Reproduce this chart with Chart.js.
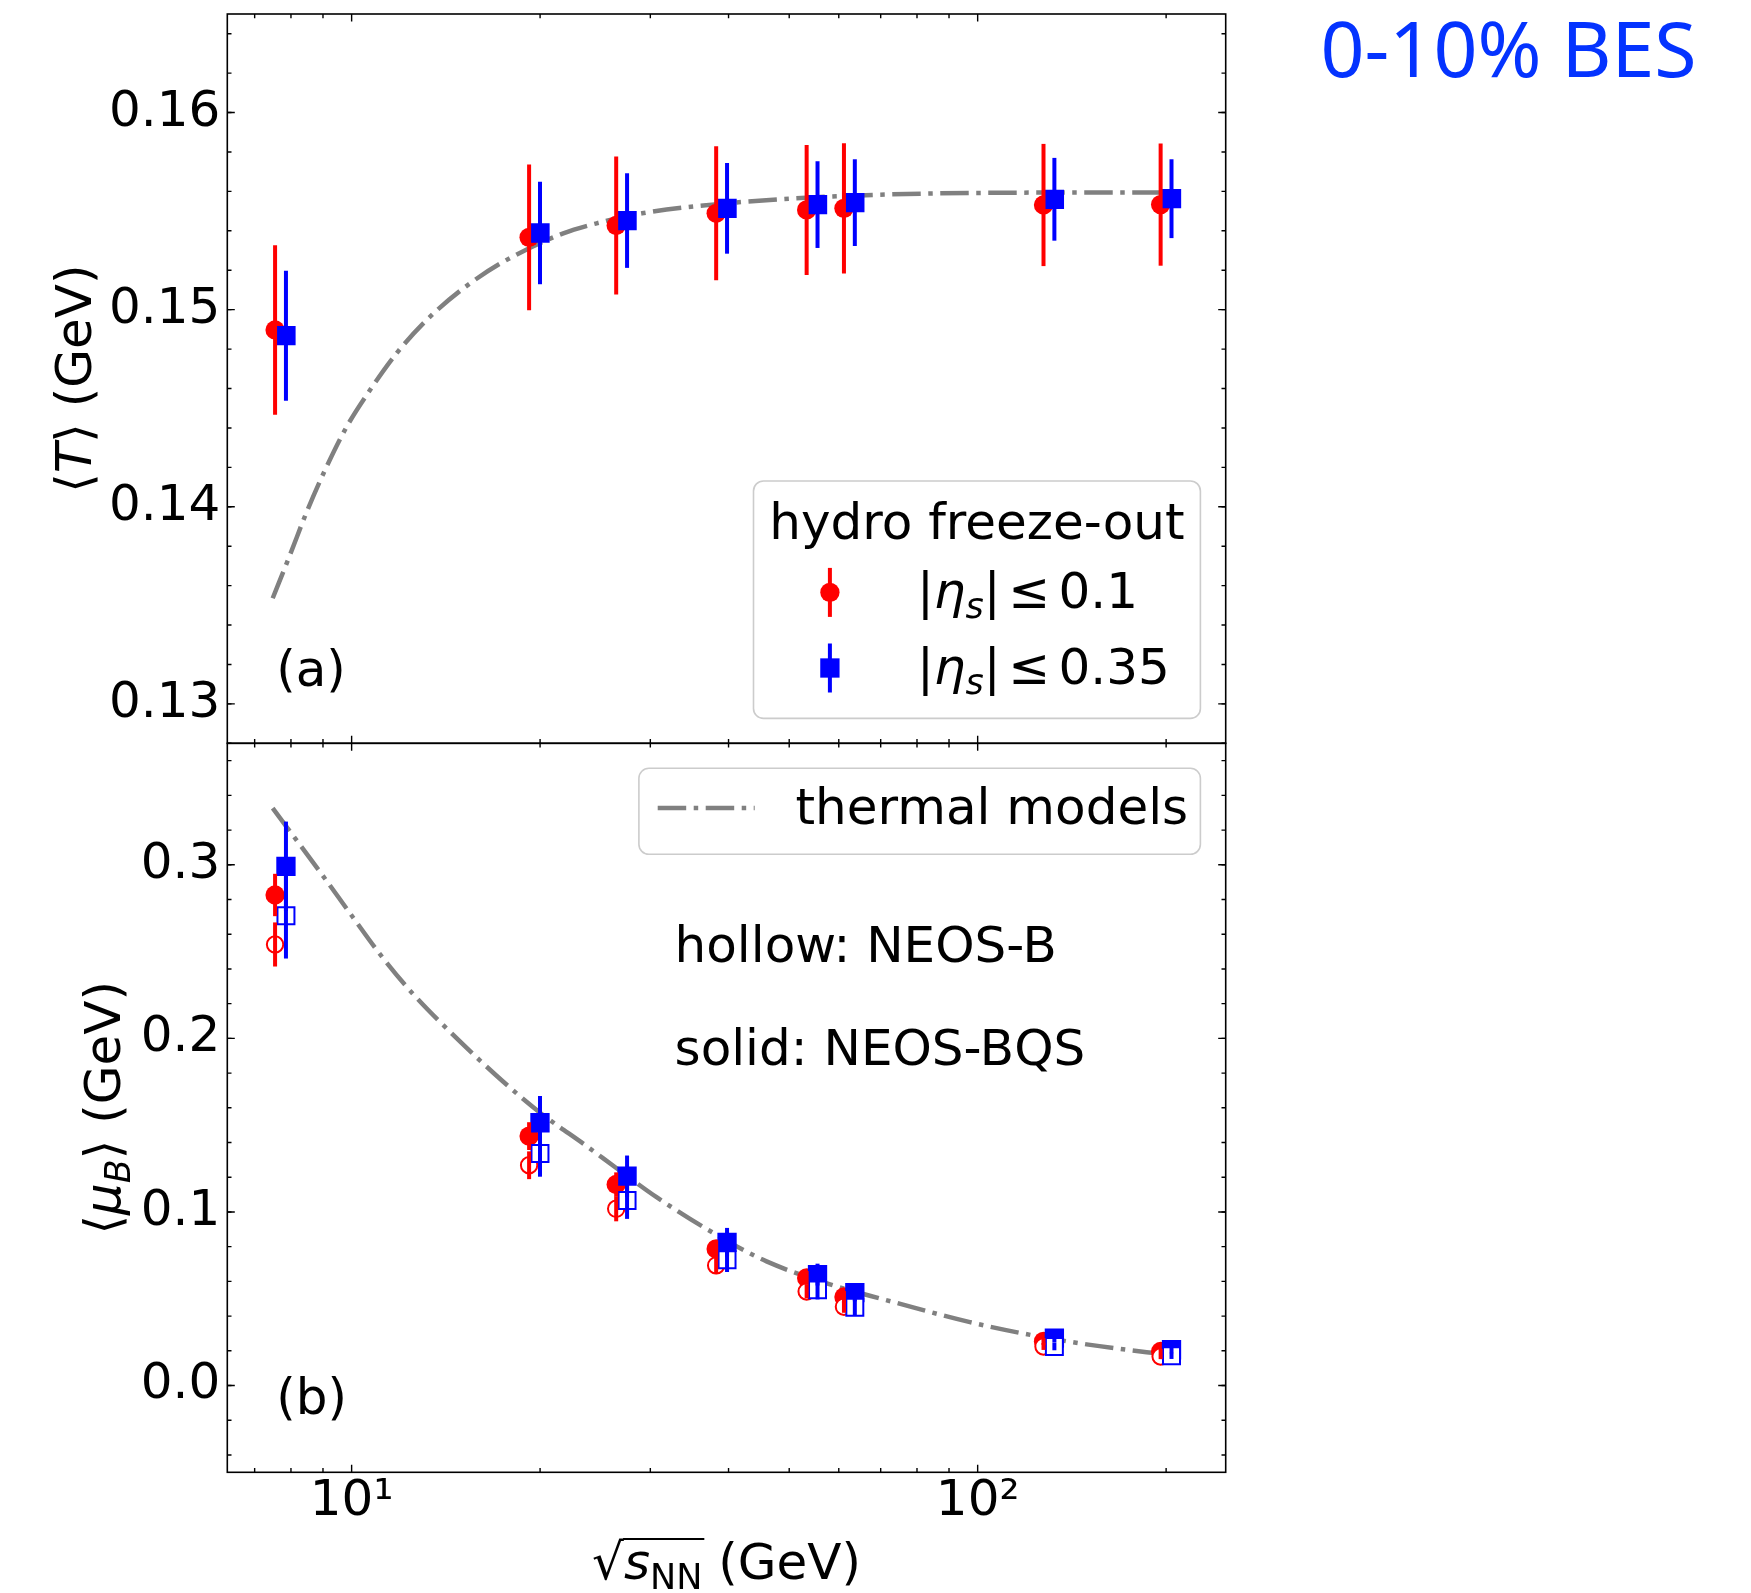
<!DOCTYPE html>
<html>
<head>
<meta charset="utf-8">
<script src="https://cdn.jsdelivr.net/npm/chart.js@4.4.1/dist/chart.umd.min.js"></script>
<style>
  html, body { margin: 0; padding: 0; background: #fff; }
  #wrap { position: relative; width: 1751px; height: 1593px; overflow: hidden; }
  #topBox { position: absolute; left: 0; top: 0; }
  #botBox { position: absolute; left: 0; top: 700px; }
</style>
</head>
<body>
<div id="wrap">
  <div id="topBox"><canvas id="tChart" width="1751" height="760"></canvas></div>
  <div id="botBox"><canvas id="muChart" width="1751" height="893"></canvas></div>
</div>
<script>
// collision energies (GeV); red points sit slightly left, blue slightly right
const sqrtS = [7.7, 19.6, 27, 39, 54.4, 62.4, 130, 200];
const narrowShift = 0.98, wideShift = 1.02;

// <T> panel, hydro freeze-out
const tNarrow    = [0.14897, 0.15367, 0.15427, 0.15489, 0.15506, 0.15514, 0.15531, 0.15533];
const tNarrowErr = [0.0043, 0.0037, 0.0035, 0.0034, 0.0033, 0.0033, 0.0031, 0.0031];
const tWide      = [0.14868, 0.15389, 0.15452, 0.15514, 0.15533, 0.15543, 0.15560, 0.15563];
const tWideErr   = [0.0033, 0.0026, 0.0024, 0.0023, 0.0022, 0.0022, 0.0021, 0.0020];

// thermal model curve for <T>
const tModelX = [7.48, 7.97, 8.48, 9.12, 9.82, 10.7, 11.8, 13.18, 15.08, 17.47, 21.78, 24.62, 29.1, 39.2, 59.5, 97.4, 200];
const tModelY = [0.13536, 0.13755, 0.13975, 0.14203, 0.14406, 0.14592, 0.14779, 0.14948, 0.15108, 0.15243, 0.15387, 0.15438, 0.15489, 0.15538, 0.15575, 0.15592, 0.15595];

// <muB> panel: solid = NEOS-BQS, hollow = NEOS-B
const muNarrowBQS    = [0.2826, 0.1437, 0.1158, 0.0787, 0.0620, 0.0510, 0.0254, 0.0196];
const muNarrowBQSErr = [0.0122, 0.0080, 0.0070, 0.0050, 0.0040, 0.0035, 0.0020, 0.0015];
const muNarrowB      = [0.2541, 0.1269, 0.1018, 0.0692, 0.0542, 0.0454, 0.0225, 0.0167];
const muNarrowBErr   = [0.0127, 0.0080, 0.0072, 0.0050, 0.0040, 0.0035, 0.0020, 0.0015];
const muWideBQS      = [0.2991, 0.1514, 0.1206, 0.0825, 0.0639, 0.0535, 0.0273, 0.0206];
const muWideBQSErr   = [0.0258, 0.0154, 0.0119, 0.0083, 0.0063, 0.0050, 0.0025, 0.0020];
const muWideB        = [0.2706, 0.1337, 0.1066, 0.0725, 0.0551, 0.0451, 0.0225, 0.0171];
const muWideBErr     = [0.0246, 0.0134, 0.0106, 0.0071, 0.0055, 0.0045, 0.0022, 0.0018];

// thermal model curve for <muB>
const muModelX = [7.48, 8.9, 10.06, 11.1, 12.54, 14.53, 17.47, 20.0, 23.74, 26.5, 30.7, 39.7, 46.0, 58.1, 76.0, 97.2, 124.2, 149.3, 186.2, 200];
const muModelY = [0.3326, 0.2960, 0.2695, 0.2485, 0.2255, 0.2020, 0.1750, 0.1572, 0.1379, 0.1252, 0.1085, 0.0835, 0.0715, 0.0583, 0.0466, 0.0365, 0.0285, 0.0237, 0.0192, 0.0180];

// ticks
const xMajorTicks = [10, 100];
const xTickLabels = ['10¹', '10²'];
const xMinorTicks = [7, 8, 9, 20, 30, 40, 50, 60, 70, 80, 90, 200];
const tTicks = [0.13, 0.14, 0.15, 0.16];
const tTickLabels = ['0.13', '0.14', '0.15', '0.16'];
const muTicks = [0.0, 0.1, 0.2, 0.3];
const muTickLabels = ['0.0', '0.1', '0.2', '0.3'];

const tMinorTicks = [];
for (let k = 64; k <= 82; k++) tMinorTicks.push(k * 0.002);
const muMinorTicks = [];
for (let k = -2; k <= 18; k++) muMinorTicks.push(k * 0.02);

// text (rich segments: n normal, i italic, s.. subscript, o overlined, r radical, m relation)
const tTitle = [['⟨', 'n'], ['T', 'i'], ['⟩ (GeV)', 'n']];
const muTitle = [['⟨', 'n'], ['μ', 'i'], ['B', 'si'], ['⟩ (GeV)', 'n']];
const xTitle = [['√', 'r'], ['s', 'io'], ['NN', 'so'], [' (GeV)', 'n']];
const narrowLabel = [['|', 'n'], ['η', 'i'], ['s', 'si'], ['|', 'n'], ['≤', 'm'], ['0.1', 'n']];
const wideLabel = [['|', 'n'], ['η', 'i'], ['s', 'si'], ['|', 'n'], ['≤', 'm'], ['0.35', 'n']];

const FONT = '"DejaVu Sans"';
Chart.defaults.font.family = 'DejaVu Sans';
Chart.defaults.font.size = 50;
Chart.defaults.color = '#000';

const pts = (xs, ys, f = 1) => xs.map((x, i) => ({ x: x * f, y: ys[i] }));

function drawRich(ctx, segs, x, y, size, align) {
  const parts = segs.map(([t, st]) => {
    const sub = st[0] === 's';
    const fs = sub ? size * 0.7 : size;
    const font = (st.indexOf('i') >= 0 ? 'italic ' : '') + fs + 'px ' + FONT;
    ctx.font = font;
    const m = ctx.measureText(t);
    const pad = st === 'm' ? size * 0.16 : 0;
    return { t, st, font, m, pad, w: m.width + 2 * pad, dy: sub ? size * 0.2 : 0 };
  });
  const W = parts.reduce((s, p) => s + p.w, 0);
  let cx = align === 'center' ? x - W / 2 : x;
  let ov = null;
  ctx.textAlign = 'left';
  ctx.textBaseline = 'alphabetic';
  for (const p of parts) {
    ctx.font = p.font;
    ctx.fillText(p.t, cx + p.pad, y + p.dy);
    if (p.st === 'r') ov = { x0: cx + p.m.actualBoundingBoxRight - 1, y: y - p.m.actualBoundingBoxAscent + 1, x1: cx };
    if (p.st.indexOf('o') >= 0 && ov) ov.x1 = cx + p.w + 2;
    cx += p.w;
  }
  if (ov) {
    ctx.save();
    ctx.strokeStyle = ctx.fillStyle;
    ctx.lineWidth = 2.2;
    ctx.beginPath(); ctx.moveTo(ov.x0, ov.y); ctx.lineTo(ov.x1, ov.y); ctx.stroke();
    ctx.restore();
  }
}

function drawMarker(ctx, ds, x, y) {
  const r = ds.pointRadius;
  ctx.beginPath();
  if (ds.pointStyle === 'rect') {
    const h = r * Math.SQRT1_2;
    ctx.rect(x - h, y - h, 2 * h, 2 * h);
  } else {
    ctx.arc(x, y, r, 0, 2 * Math.PI);
  }
  ctx.fillStyle = ds.pointBackgroundColor;
  ctx.fill();
  if (ds.pointBorderWidth) {
    ctx.lineWidth = ds.pointBorderWidth;
    ctx.strokeStyle = ds.pointBorderColor;
    ctx.stroke();
  }
}

function roundBox(ctx, x0, y0, x1, y1, r) {
  ctx.beginPath();
  ctx.moveTo(x0 + r, y0);
  ctx.arcTo(x1, y0, x1, y1, r);
  ctx.arcTo(x1, y1, x0, y1, r);
  ctx.arcTo(x0, y1, x0, y0, r);
  ctx.arcTo(x0, y0, x1, y0, r);
  ctx.closePath();
}

function drawLegend(ctx, chart, L) {
  const [x0, y0, x1, y1] = L.box;
  ctx.save();
  roundBox(ctx, x0, y0, x1, y1, 10);
  ctx.fillStyle = 'rgba(255,255,255,0.8)';
  ctx.fill();
  ctx.strokeStyle = '#cccccc';
  ctx.lineWidth = 1.6;
  ctx.stroke();
  if (L.title) {
    ctx.fillStyle = '#000';
    ctx.font = '50px ' + FONT;
    ctx.textAlign = 'center';
    ctx.textBaseline = 'alphabetic';
    ctx.fillText(L.title, (x0 + x1) / 2, L.titleY);
  }
  L.items.forEach(it => {
    const ds = chart.data.datasets[it.ds];
    if (ds.showLine === false) {
      ctx.strokeStyle = ds.pointBorderColor;
      ctx.lineWidth = 4;
      ctx.beginPath(); ctx.moveTo(it.mx, it.my - L.bar); ctx.lineTo(it.mx, it.my + L.bar); ctx.stroke();
      drawMarker(ctx, ds, it.mx, it.my);
    } else {
      ctx.strokeStyle = ds.borderColor;
      ctx.lineWidth = ds.borderWidth;
      ctx.setLineDash(ds.borderDash);
      ctx.beginPath(); ctx.moveTo(it.mx - L.half, it.my); ctx.lineTo(it.mx + L.half, it.my); ctx.stroke();
      ctx.setLineDash([]);
    }
    ctx.fillStyle = '#000';
    drawRich(ctx, it.label, it.tx, it.ty, 50, 'left');
  });
  ctx.restore();
}

const decorCfg = {
  tChart: {
    yMajor: tTicks, yMinor: tMinorTicks,
    yTitle: { segs: tTitle, x: 90.5 },
    texts: [{ segs: [['(a)', 'n']], fx: 0.049, fy: 0.921 }],
    legend: {
      box: [753.5, 481, 1200.4, 718.4], title: 'hydro freeze-out', titleY: 539, bar: 24.5,
      items: [
        { ds: 1, mx: 829.9, my: 592.4, tx: 917, ty: 608, label: narrowLabel },
        { ds: 2, mx: 829.9, my: 668, tx: 917, ty: 684, label: wideLabel }
      ]
    },
    tag: { text: '0-10% BES', x: 1320.5, y: 77, color: '#0433ff', font: '77px "Noto Sans"' }
  },
  muChart: {
    yMajor: muTicks, yMinor: muMinorTicks,
    yTitle: { segs: muTitle, x: 120 },
    xTitle: { segs: xTitle, y: 879 },
    texts: [
      { segs: [['(b)', 'n']], fx: 0.049, fy: 0.92 },
      { segs: [['hollow: NEOS-B', 'n']], fx: 0.448, fy: 0.300 },
      { segs: [['solid: NEOS-BQS', 'n']], fx: 0.448, fy: 0.441 }
    ],
    legend: {
      box: [638.9, 68.3, 1200.4, 154.3], half: 48.5,
      items: [{ ds: 0, mx: 706.2, my: 108, tx: 795.5, ty: 124.3, label: [['thermal models', 'n']] }]
    }
  }
};

const decor = {
  id: 'decor',
  afterDatasetsDraw(chart) {
    const { ctx, scales: { x, y } } = chart;
    ctx.save();
    ctx.lineWidth = 4;
    ctx.lineCap = 'butt';
    chart.data.datasets.forEach(ds => {
      if (!ds.yErr) return;
      ctx.strokeStyle = ds.pointBorderColor;
      ds.data.forEach((p, i) => {
        const px = x.getPixelForValue(p.x);
        ctx.beginPath();
        ctx.moveTo(px, y.getPixelForValue(p.y - ds.yErr[i]));
        ctx.lineTo(px, y.getPixelForValue(p.y + ds.yErr[i]));
        ctx.stroke();
      });
    });
    ctx.restore();
  },
  afterDraw(chart) {
    const o = decorCfg[chart.canvas.id];
    const { ctx, chartArea: a, scales: { x, y } } = chart;
    ctx.save();
    // inward ticks on all four sides
    ctx.strokeStyle = '#000';
    ctx.lineWidth = 1.4;
    const xt = (vals, len) => vals.forEach(v => {
      const px = x.getPixelForValue(v);
      if (px < a.left - 0.5 || px > a.right + 0.5) return;
      ctx.beginPath();
      ctx.moveTo(px, a.bottom); ctx.lineTo(px, a.bottom - len);
      ctx.moveTo(px, a.top); ctx.lineTo(px, a.top + len);
      ctx.stroke();
    });
    const yt = (vals, len) => vals.forEach(v => {
      const py = y.getPixelForValue(v);
      if (py < a.top - 0.5 || py > a.bottom + 0.5) return;
      ctx.beginPath();
      ctx.moveTo(a.left, py); ctx.lineTo(a.left + len, py);
      ctx.moveTo(a.right, py); ctx.lineTo(a.right - len, py);
      ctx.stroke();
    });
    xt(xMinorTicks, 4.2); xt(xMajorTicks, 7.5);
    yt(o.yMinor, 4.2); yt(o.yMajor, 7.5);
    // frame
    ctx.lineWidth = 1.6;
    ctx.strokeRect(a.left, a.top, a.right - a.left, a.bottom - a.top);
    // texts
    ctx.fillStyle = '#000';
    o.texts.forEach(t => drawRich(ctx, t.segs, a.left + t.fx * (a.right - a.left), a.top + t.fy * (a.bottom - a.top), 50, 'left'));
    // axis titles
    ctx.save();
    ctx.translate(o.yTitle.x, (a.top + a.bottom) / 2);
    ctx.rotate(-Math.PI / 2);
    drawRich(ctx, o.yTitle.segs, 0, 0, 50, 'center');
    ctx.restore();
    if (o.xTitle) drawRich(ctx, o.xTitle.segs, (a.left + a.right) / 2, o.xTitle.y, 50, 'center');
    if (o.legend) drawLegend(ctx, chart, o.legend);
    if (o.tag) {
      ctx.fillStyle = o.tag.color;
      ctx.font = o.tag.font;
      ctx.textAlign = 'left';
      ctx.textBaseline = 'alphabetic';
      ctx.fillText(o.tag.text, o.tag.x, o.tag.y);
    }
    ctx.restore();
  }
};

const X_MIN = 6.33, X_MAX = 249;

function modelSet(label, xs, ys) {
  return {
    label, data: pts(xs, ys), borderColor: '#808080', borderWidth: 4.5,
    borderDash: [28.5, 7.5, 4.5, 7.5], pointRadius: 0, cubicInterpolationMode: 'monotone',
    fill: false, order: 10
  };
}
function markerSet(label, xs, ys, err, f, color, style, hollow, order) {
  return {
    label, data: pts(xs, ys, f), yErr: err, showLine: false,
    pointStyle: style, pointRadius: style === 'rect' ? (hollow ? 12 : 13.65) : (hollow ? 8.2 : 9.65),
    pointBackgroundColor: hollow ? '#ffffff' : color, pointBorderColor: color,
    pointBorderWidth: hollow ? 2 : 0, borderColor: color, order
  };
}

function yAxis(min, max, ticks, labels) {
  return {
    type: 'linear', min, max,
    afterFit: s => { s.width = 227.3; s.paddingTop = 0; s.paddingBottom = 0; },
    afterBuildTicks: s => { s.ticks = ticks.map(v => ({ value: v })); },
    grid: { display: false, drawTicks: false },
    border: { display: false },
    ticks: { padding: 7, font: { size: 50 }, callback: (v, i) => labels[i] }
  };
}

new Chart(document.getElementById('tChart'), {
  type: 'line',
  data: {
    datasets: [
      modelSet('thermal models', tModelX, tModelY),
      markerSet('|η_s| ≤ 0.1', sqrtS, tNarrow, tNarrowErr, narrowShift, '#ff0000', 'circle', false, 2),
      markerSet('|η_s| ≤ 0.35', sqrtS, tWide, tWideErr, wideShift, '#0000ff', 'rect', false, 1)
    ]
  },
  options: {
    responsive: false, animation: false, events: [],
    layout: { padding: { left: 0, top: 14, right: 525.3, bottom: 16.7 } },
    plugins: { legend: { display: false }, tooltip: { enabled: false } },
    scales: {
      x: { type: 'logarithmic', min: X_MIN, max: X_MAX, display: false },
      y: yAxis(0.128, 0.165, tTicks, tTickLabels)
    }
  },
  plugins: [decor]
});

new Chart(document.getElementById('muChart'), {
  type: 'line',
  data: {
    datasets: [
      modelSet('thermal models', muModelX, muModelY),
      markerSet('NEOS-BQS |η_s| ≤ 0.1', sqrtS, muNarrowBQS, muNarrowBQSErr, narrowShift, '#ff0000', 'circle', false, 4),
      markerSet('NEOS-B |η_s| ≤ 0.1', sqrtS, muNarrowB, muNarrowBErr, narrowShift, '#ff0000', 'circle', true, 3),
      markerSet('NEOS-BQS |η_s| ≤ 0.35', sqrtS, muWideBQS, muWideBQSErr, wideShift, '#0000ff', 'rect', false, 2),
      markerSet('NEOS-B |η_s| ≤ 0.35', sqrtS, muWideB, muWideBErr, wideShift, '#0000ff', 'rect', true, 1)
    ]
  },
  options: {
    responsive: false, animation: false, events: [],
    layout: { padding: { left: 0, top: 43.3, right: 525.3, bottom: 0 } },
    plugins: { legend: { display: false }, tooltip: { enabled: false } },
    scales: {
      x: {
        type: 'logarithmic', min: X_MIN, max: X_MAX,
        afterFit: s => { s.height = 120.7; s.paddingLeft = 0; s.paddingRight = 0; },
        afterBuildTicks: s => { s.ticks = xMajorTicks.map(v => ({ value: v })); },
        grid: { display: false, drawTicks: false },
        border: { display: false },
        ticks: { padding: 0, maxRotation: 0, minRotation: 0, autoSkip: false, font: { size: 50 },
                 callback: (v, i) => xTickLabels[i] }
      },
      y: yAxis(-0.05, 0.37, muTicks, muTickLabels)
    }
  },
  plugins: [decor]
});
</script>
</body>
</html>
